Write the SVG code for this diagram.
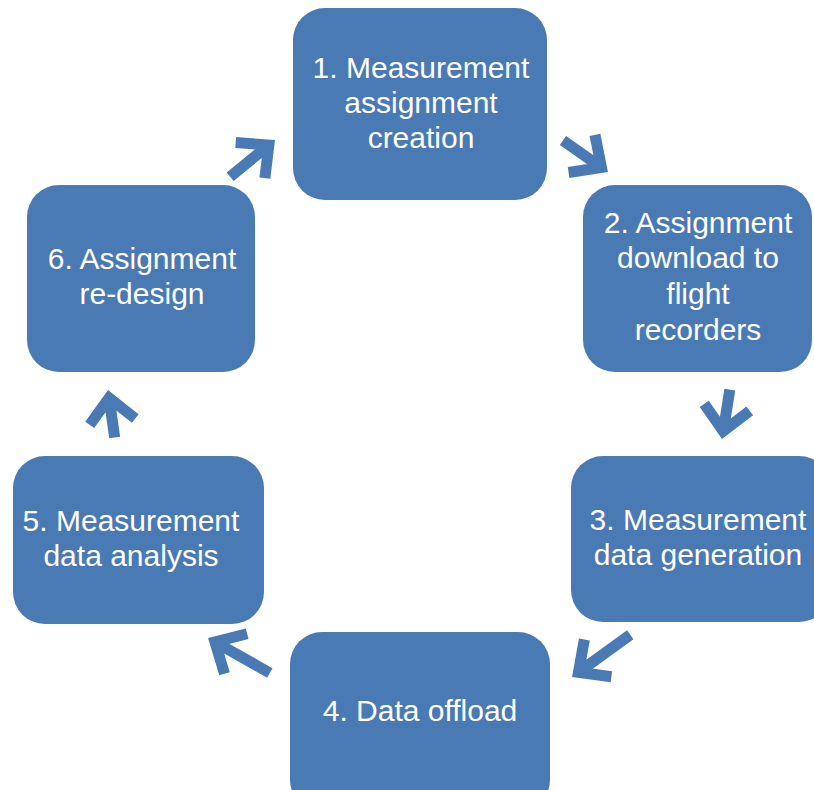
<svg xmlns="http://www.w3.org/2000/svg" width="814" height="790" viewBox="0 0 814 790">
<style>
.box{fill:#4a7ab4;}
.lbl{fill:#ffffff;font-family:"Liberation Sans",Arial,sans-serif;font-size:30px;text-anchor:middle;}
.arr{fill:none;stroke:#4a7ab4;stroke-width:11;stroke-linejoin:miter;stroke-miterlimit:10;}
</style>
<rect width="814" height="790" fill="#ffffff"/>
<g id="node1"><rect class="box" x="293" y="8" width="254" height="192" rx="32"/>
<text class="lbl" x="421" y="78">1. Measurement</text>
<text class="lbl" x="421" y="113">assignment</text>
<text class="lbl" x="421" y="148">creation</text></g>
<g id="node2"><rect class="box" x="583" y="185" width="229" height="187" rx="32"/>
<text class="lbl" x="698" y="233">2. Assignment</text>
<text class="lbl" x="698" y="268">download to</text>
<text class="lbl" x="698" y="304">flight</text>
<text class="lbl" x="698" y="340">recorders</text></g>
<g id="node3"><rect class="box" x="571" y="456" width="260" height="166" rx="32"/>
<text class="lbl" x="698" y="530">3. Measurement</text>
<text class="lbl" x="698" y="565">data generation</text></g>
<g id="node4"><rect class="box" x="290" y="632" width="260" height="180" rx="32"/>
<text class="lbl" x="420" y="721">4. Data offload</text></g>
<g id="node5"><rect class="box" x="13" y="456" width="251" height="168" rx="32"/>
<text class="lbl" x="131" y="531">5. Measurement</text>
<text class="lbl" x="131" y="566">data analysis</text></g>
<g id="node6"><rect class="box" x="27" y="185" width="228" height="187" rx="32"/>
<text class="lbl" x="142" y="269">6. Assignment</text>
<text class="lbl" x="142" y="304">re-design</text></g>
<g id="connectors">
<g transform="translate(275,140) rotate(-39.4)"><path class="arr" d="M-58,0 L-8,0 M-32,-23 L-8,0 L-32,23"/></g>
<g transform="translate(608,172) rotate(35)"><path class="arr" d="M-55,0 L-8,0 M-32,-23 L-8,0 L-32,23"/></g>
<g transform="translate(722,439) rotate(99)"><path class="arr" d="M-50,0 L-8,0 M-32,-23 L-8,0 L-32,23"/></g>
<g transform="translate(572,677) rotate(144)"><path class="arr" d="M-72,0 L-8,0 M-32,-23 L-8,0 L-32,23"/></g>
<g transform="translate(208,638) rotate(-150.5)"><path class="arr" d="M-71,0 L-8,0 M-32,-23 L-8,0 L-32,23"/></g>
<g transform="translate(108,390) rotate(-98)"><path class="arr" d="M-48,0 L-8,0 M-32,-23 L-8,0 L-32,23"/></g>
</g>
</svg>
